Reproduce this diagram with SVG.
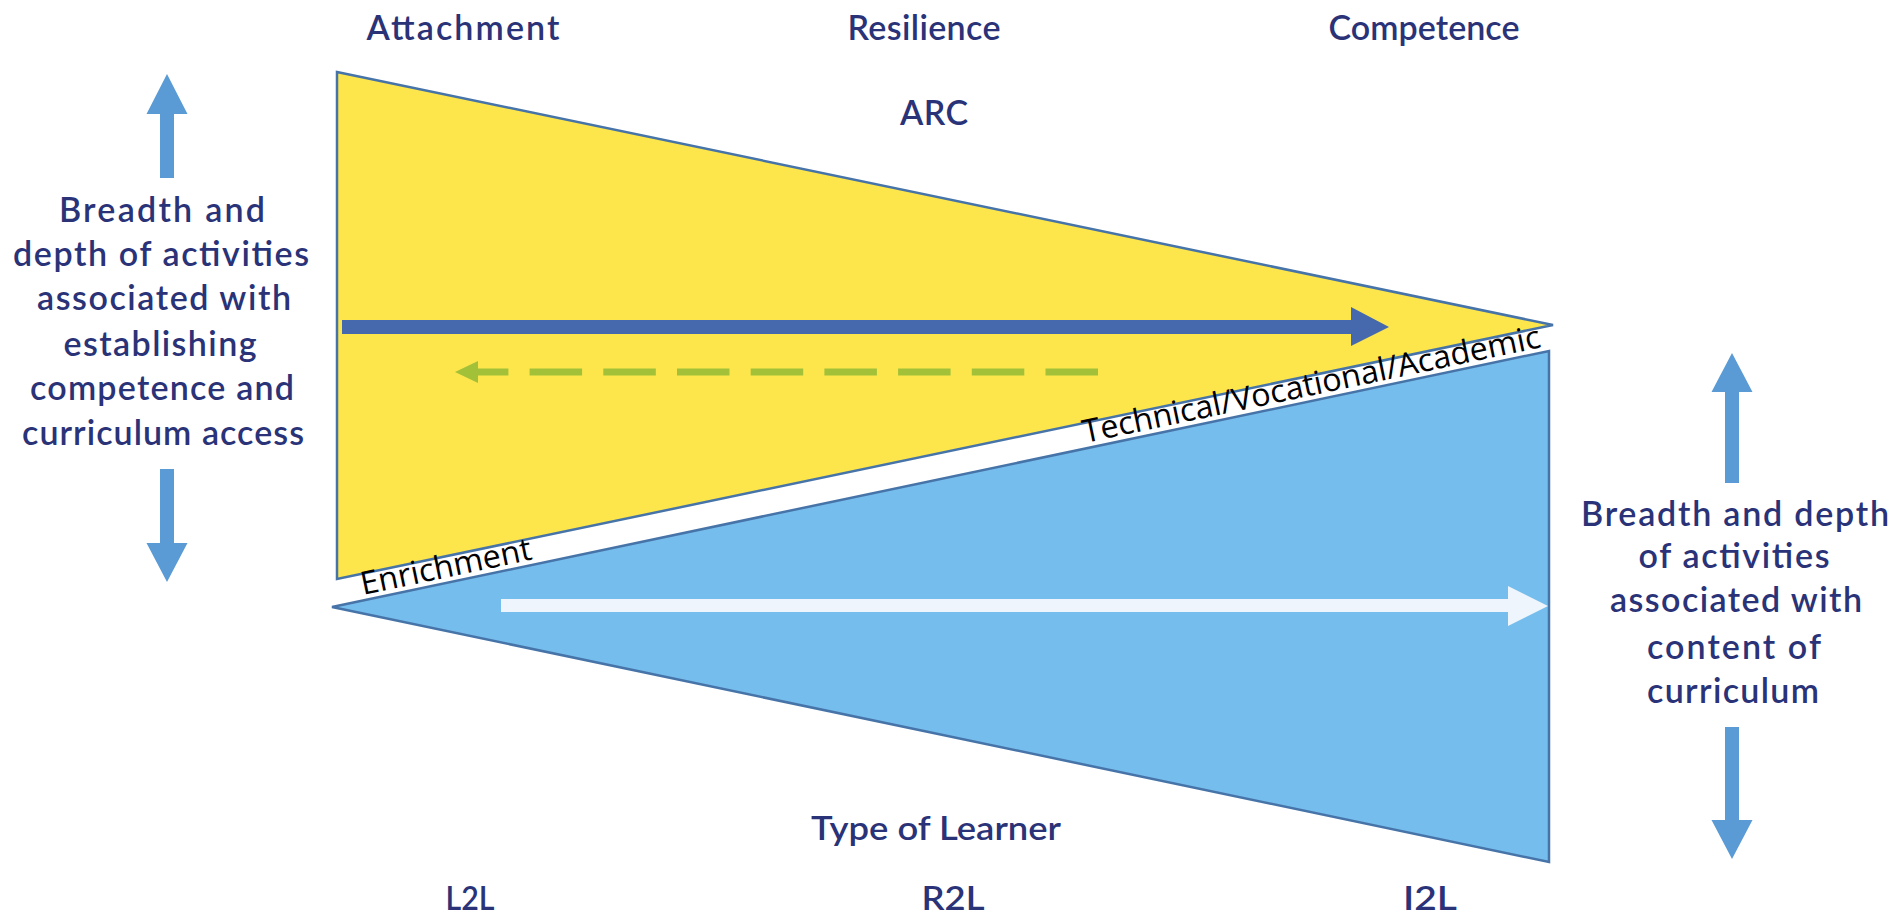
<svg xmlns="http://www.w3.org/2000/svg" width="1891" height="919" viewBox="0 0 1891 919">
<style>
.hand{font-family:Lato,"Noto Sans","DejaVu Sans",sans-serif;font-weight:600;font-size:34px;fill:#2A3377;text-anchor:middle}
.cond{font-family:Lato,"Noto Sans","DejaVu Sans",sans-serif;font-weight:600;font-size:32px;fill:#2A3377;text-anchor:middle}
.band{font-family:"Open Sans","Noto Sans","DejaVu Sans",sans-serif;font-size:32px;fill:#000}
.tri{stroke:#4774A8;stroke-width:2.5;stroke-linejoin:miter}
.varrow{fill:#5B9BD5}
</style>
<rect width="1891" height="919" fill="#FFFFFF"/>
<g id="yellow-triangle">
<polygon class="tri" fill="#FCE64C" points="337,72 1553,325 337,579"/>
</g>
<g id="blue-triangle">
<polygon class="tri" fill="#75BDED" points="332,607 1549,351 1549,862"/>
</g>
<g id="band-labels">
<text class="band" transform="translate(363,595) rotate(-11.86)" textLength="174" lengthAdjust="spacingAndGlyphs">Enrichment</text>
<text class="band" transform="translate(1085,443) rotate(-11.86)" textLength="467" lengthAdjust="spacingAndGlyphs">Technical/Vocational/Academic</text>
</g>
<g id="connectors">
<polygon fill="#4668AC" points="342,320 1351,320 1351,307 1389,327 1351,346 1351,334 342,334"/>
<path d="M1098,372 H477" stroke="#A2C139" stroke-width="7" stroke-dasharray="52.5 21.2" fill="none"/>
<polygon fill="#A2C139" points="455,372 478,361 478,383"/>
<polygon fill="#EEF5FD" points="501,599 1508,599 1508,586 1548,606 1508,626 1508,612 501,612"/>
<polygon class="varrow" points="167,74 187.5,114 174,114 174,178 160,178 160,114 146.5,114"/>
<polygon class="varrow" points="160,469 174,469 174,543 187.5,543 167,582 146.5,543 160,543"/>
<polygon class="varrow" points="1732,353 1752.5,392 1739,392 1739,483 1725,483 1725,392 1711.5,392"/>
<polygon class="varrow" points="1725,727 1739,727 1739,820 1752.5,820 1732,859 1711.5,820 1725,820"/>
</g>
<g id="top-labels">
<text class="hand" x="463" y="40" textLength="193" lengthAdjust="spacing">Attachment</text>
<text class="hand" x="924" y="40" textLength="153" lengthAdjust="spacing">Resilience</text>
<text class="hand" x="1424" y="40" textLength="191" lengthAdjust="spacing">Competence</text>
<text class="hand" x="934" y="125" textLength="68" lengthAdjust="spacing">ARC</text>
</g>
<g id="left-label">
<text class="hand" x="162" y="222" textLength="206" lengthAdjust="spacing">Breadth and</text>
<text class="hand" x="161" y="266" textLength="296" lengthAdjust="spacing">depth of activities</text>
<text class="hand" x="164" y="310" textLength="254" lengthAdjust="spacing">associated with</text>
<text class="hand" x="160" y="356" textLength="193" lengthAdjust="spacing">establishing</text>
<text class="hand" x="162" y="400" textLength="264" lengthAdjust="spacing">competence and</text>
<text class="hand" x="163" y="445" textLength="282" lengthAdjust="spacing">curriculum access</text>
</g>
<g id="right-label">
<text class="hand" x="1735" y="526" textLength="308" lengthAdjust="spacing">Breadth and depth</text>
<text class="hand" x="1734" y="568" textLength="191" lengthAdjust="spacing">of activities</text>
<text class="hand" x="1736" y="612" textLength="252" lengthAdjust="spacing">associated with</text>
<text class="hand" x="1734" y="659" textLength="174" lengthAdjust="spacing">content of</text>
<text class="hand" x="1733" y="703" textLength="172" lengthAdjust="spacing">curriculum</text>
</g>
<g id="bottom-labels">
<text class="cond" x="936" y="840" textLength="250" lengthAdjust="spacingAndGlyphs">Type of Learner</text>
<text class="cond" x="470" y="910" textLength="49" lengthAdjust="spacingAndGlyphs">L2L</text>
<text class="cond" x="953" y="910" textLength="63" lengthAdjust="spacingAndGlyphs">R2L</text>
<text class="cond" x="1430" y="910" textLength="54" lengthAdjust="spacingAndGlyphs">I2L</text>
</g>
</svg>
